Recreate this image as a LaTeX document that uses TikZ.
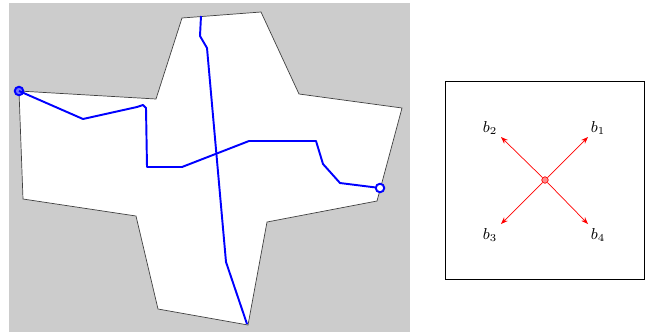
\documentclass[tikz,border=0pt]{standalone}
\usepackage{amsmath}
\usetikzlibrary{arrows.meta,positioning,calc}

\begin{document}
\begin{tikzpicture}[
        x=0.02cm, y=-0.02cm,
        region/.style={draw=black!75, line width=0.4pt, fill=white},
        route/.style={blue, line width=1.1pt, line join=round},
        endpt/.style={circle, draw=blue, line width=1.1pt, inner sep=0pt, minimum size=0.17cm},
        vec/.style={-{Stealth[length=4pt,width=3pt]}, red, line width=0.4pt},
        lbl/.style={font=\small, inner sep=1pt}
        ]
        \useasboundingbox (0,0) rectangle (649,332);

        % domain
        \fill[black!20] (9,3) rectangle (410,332);
        \draw[region] (182,18) -- (261,12) -- (299,94) -- (402,108) -- (377,201)
            -- (267,222) -- (248,325) -- (158,309) -- (136,216) -- (23,199)
            -- (19,91) -- (156,99) -- cycle;

        % paths
        \node[endpt, fill=blue!55] (src) at (19,91) {};
        \node[endpt, fill=white] (dst) at (380,188) {};
        \draw[route] (src.center) -- (83,119) -- (137,107) -- (143,105) -- (146,108)
            -- (147,167) -- (182,167) -- (249,141) -- (316,141) -- (323,164)
            -- (340,183) -- (dst);
        \coordinate (top) at (201,16);
        \coordinate (bot) at (247,324);
        \draw[route] (top) -- (200,36) -- (207,48) -- (226,262) -- (bot);

        % directions
        \draw[line width=0.5pt] (445,81) rectangle (644,279);
        \node[circle, draw=red, fill=red!45, inner sep=0pt, minimum size=0.13cm] (o) at (545,180) {};
        \coordinate (t1) at (588,137);
        \coordinate (t2) at (501,137);
        \coordinate (t3) at (501,224);
        \coordinate (t4) at (588,224);
        \draw[vec] (o) -- (t1);
        \draw[vec] (o) -- (t2);
        \draw[vec] (o) -- (t3);
        \draw[vec] (o) -- (t4);
        \node[lbl] (b1) at (598,128) {$b_1$};
        \node[lbl] (b2) at (490,128) {$b_2$};
        \node[lbl] (b3) at (490,235) {$b_3$};
        \node[lbl] (b4) at (598,235) {$b_4$};
    \end{tikzpicture}
\end{document}
